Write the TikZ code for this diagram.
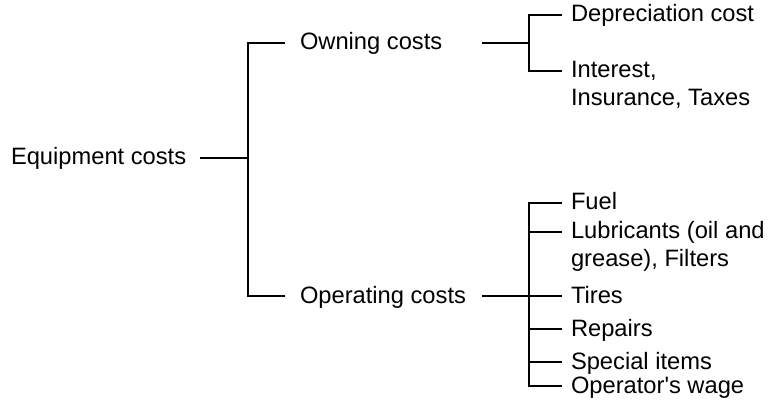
\documentclass[tikz,border=0pt]{standalone}
\usepackage{fontspec}
\setmainfont{Liberation Sans}
\usetikzlibrary{positioning}

\begin{document}
\begin{tikzpicture}[
  x=0.5pt, y=-0.5pt,
  line width=1pt,
  lbl/.style={font=\fontsize{11.85}{14}\selectfont, inner sep=0pt,
    anchor=base west, align=left}]
\useasboundingbox (0,0) rectangle (776,406);
% spines of the brackets
\coordinate (sp0) at (248,158);
\coordinate (sp1) at (529,43);
\coordinate (sp2) at (529,296);
% labels (two-line ones sit on their last line)
\node[lbl] (eq) at (10,165) {Equipment costs};
\node[lbl] (own) at (299,50) {Owning costs};
\node[lbl] (op) at (299,303) {Operating costs};
\node[lbl] (dep) at (570,22) {Depreciation cost};
\node[lbl] (int) at (570,106) {Interest,\\Insurance, Taxes};
\node[lbl] (fuel) at (570,210) {Fuel};
\node[lbl] (lub) at (570,267) {Lubricants (oil and\\grease), Filters};
\node[lbl] (tir) at (570,303) {Tires};
\node[lbl] (rep) at (570,336) {Repairs};
\node[lbl] (spe) at (570,369) {Special items};
\node[lbl] (opw) at (570,393) {Operator\textquotesingle s wage};
% connectors
\draw (sp0) -- ++(-24pt,0);
\draw (sp1) -- ++(-23.5pt,0);
\draw (sp2) -- ++(-23.5pt,0);
\foreach \n in {own,op}
  \draw ([xshift=-7pt,yshift=3.5pt]\n.base west) -| (sp0);
\foreach \n/\dy in {dep/0,int/14}
  \draw ([xshift=-4pt,yshift={3.5pt+\dy pt}]\n.base west) -| (sp1);
\foreach \n/\dy in {fuel/0,lub/14,tir/0,rep/0,spe/0,opw/0}
  \draw ([xshift=-4pt,yshift={3.5pt+\dy pt}]\n.base west) -| (sp2);
\end{tikzpicture}
\end{document}
